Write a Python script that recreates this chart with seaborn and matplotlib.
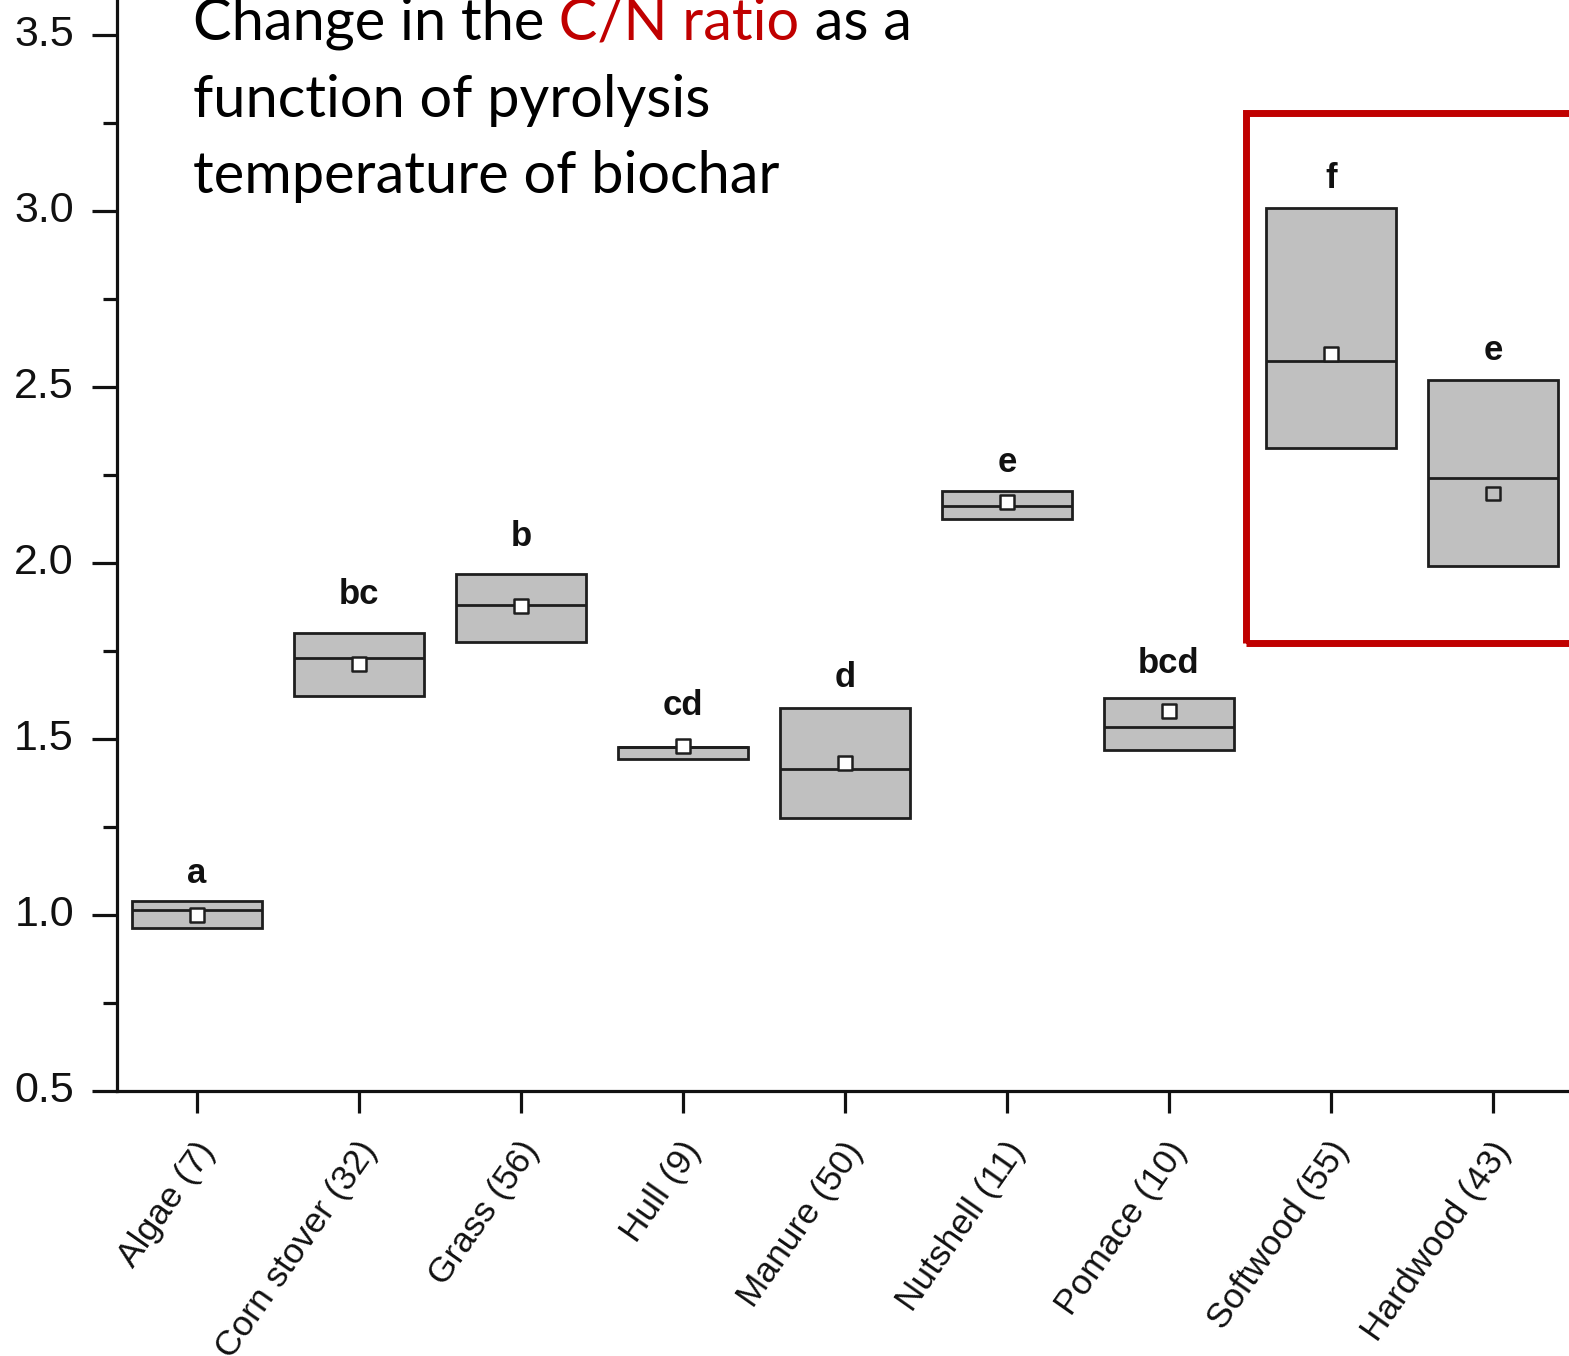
import numpy as np
import pandas as pd
import matplotlib
matplotlib.use("Agg")
import matplotlib.pyplot as plt
import matplotlib.transforms as mtransforms
from matplotlib.patches import Rectangle
from matplotlib.ticker import MultipleLocator, AutoMinorLocator, FormatStrFormatter
import seaborn as sns

# ---------------- data ----------------
categories = ["Algae (7)", "Corn stover (32)", "Grass (56)", "Hull (9)", "Manure (50)",
              "Nutshell (11)", "Pomace (10)", "Softwood (55)", "Hardwood (43)"]
lower = [0.964, 1.623, 1.776, 1.442, 1.275, 2.125, 1.469, 2.327, 1.992]
median = [1.013, 1.731, 1.881, 1.478, 1.414, 2.162, 1.533, 2.574, 2.242]
upper = [1.041, 1.802, 1.969, 1.478, 1.587, 2.205, 1.617, 3.009, 2.520]
means = [1.000, 1.714, 1.879, 1.479, 1.431, 2.174, 1.580, 2.594, 2.198]
letters = ["a", "bc", "b", "cd", "d", "e", "bcd", "f", "e"]
letter_y = [1.091, 1.884, 2.048, 1.568, 1.648, 2.259, 1.688, 3.065, 2.577]
title_lines = ["function of pyrolysis", "temperature of biochar"]
title_first = [("Change in the", "black"), (" C/N ratio", "#c00000"), (" as a", "black")]

# long table: [low, low, med, high, high] -> Q1=low, median=med, Q3=high
rows = []
for c, lo, me, hi in zip(categories, lower, median, upper):
    for v in (lo, lo, me, hi, hi):
        rows.append({"cat": c, "val": v})
df = pd.DataFrame(rows)

# ---------------- figure ----------------
sns.set_style("ticks")
plt.rcParams["font.family"] = ["Liberation Sans", "DejaVu Sans"]

W, H, DPI = 1569, 1356, 100
fig = plt.figure(figsize=(W / DPI, H / DPI), dpi=DPI)
ax = fig.add_axes([117 / W, 1 - 1091 / H, 1 - 117 / W, 1091 / H])

edge = "#1e1e1e"
sns.boxplot(data=df, x="cat", y="val", order=categories, color="#c0c0c0",
            linecolor=edge, linewidth=2.0, width=0.8, whis=(0, 100),
            showcaps=False, showfliers=False, saturation=1, ax=ax)

sns.stripplot(x=categories, y=means, order=categories, jitter=False, marker="s",
              size=9.5, color="white", edgecolor=edge, linewidth=1.8, ax=ax, zorder=5)
ax.collections[-1].set_facecolor("none")

# letters
for i, (lt, ly) in enumerate(zip(letters, letter_y)):
    ax.text(i, ly, lt, ha="center", va="baseline", fontsize=25,
            fontweight="bold", color="#111111")

# axes cosmetics
ax.set_xlim(-0.494, 8.469)
ax.set_ylim(0.5, 0.5 + 1091 / 352)
ax.set_xlabel("")
ax.set_ylabel("")
sns.despine(ax=ax, top=True, right=True)
for s in ("left", "bottom"):
    ax.spines[s].set_linewidth(2.3)
    ax.spines[s].set_color("#111111")

ax.yaxis.set_major_locator(MultipleLocator(0.5))
ax.yaxis.set_minor_locator(AutoMinorLocator(2))
ax.yaxis.set_major_formatter(FormatStrFormatter("%.1f"))
ax.tick_params(axis="y", which="major", length=18, width=2.3, pad=13,
               labelsize=31, color="#111111", labelcolor="#111111")
ax.tick_params(axis="y", which="minor", length=10, width=2.3, color="#111111")
ax.tick_params(axis="x", which="major", length=16, width=2.3, pad=23,
               labelsize=25.5, color="#111111", labelcolor="#111111")

yoff = mtransforms.ScaledTranslation(0, 3 / 72, fig.dpi_scale_trans)
for lbl in ax.get_yticklabels():
    lbl.set_transform(lbl.get_transform() + yoff)

offset = mtransforms.ScaledTranslation(8 / 72, 0, fig.dpi_scale_trans)
for lbl in ax.get_xticklabels():
    lbl.set_rotation(55)
    lbl.set_ha("right")
    lbl.set_va("center")
    lbl.set_rotation_mode("anchor")
    lbl.set_transform(lbl.get_transform() + offset)

# red highlight rectangle
ax.add_patch(Rectangle((6.475, 1.772), 3.0, 3.279 - 1.772, fill=False,
                       edgecolor="#c00000", linewidth=5, clip_on=False, zorder=6))

# title text (Calibri-like -> Lato), auto-fit the first line to its width
tx = (193 - 117) / 1452
base = [1 - 39 / 1091, 1 - 117 / 1091, 1 - 193 / 1091]
fam = ["Lato", "DejaVu Sans"]
renderer = fig.canvas.get_renderer()
probe = ax.text(0, 0, "".join(t for t, _ in title_first), fontsize=30,
                family=fam, transform=ax.transAxes)
wpx = probe.get_window_extent(renderer).width
probe.remove()
fs = 30 * 719 / wpx

prev = ax.text(tx, base[0], title_first[0][0], color=title_first[0][1], fontsize=fs,
               family=fam, transform=ax.transAxes, va="baseline", ha="left")
for t, c in title_first[1:]:
    prev = ax.annotate(t, xycoords=prev, xy=(1, 0), va="bottom", ha="left",
                       color=c, fontsize=fs, family=fam)
for k, line in enumerate(title_lines):
    ax.text(tx, base[k + 1], line, color="black", fontsize=fs,
            family=fam, transform=ax.transAxes, va="baseline", ha="left")

fig.savefig("out.png", dpi=DPI)
